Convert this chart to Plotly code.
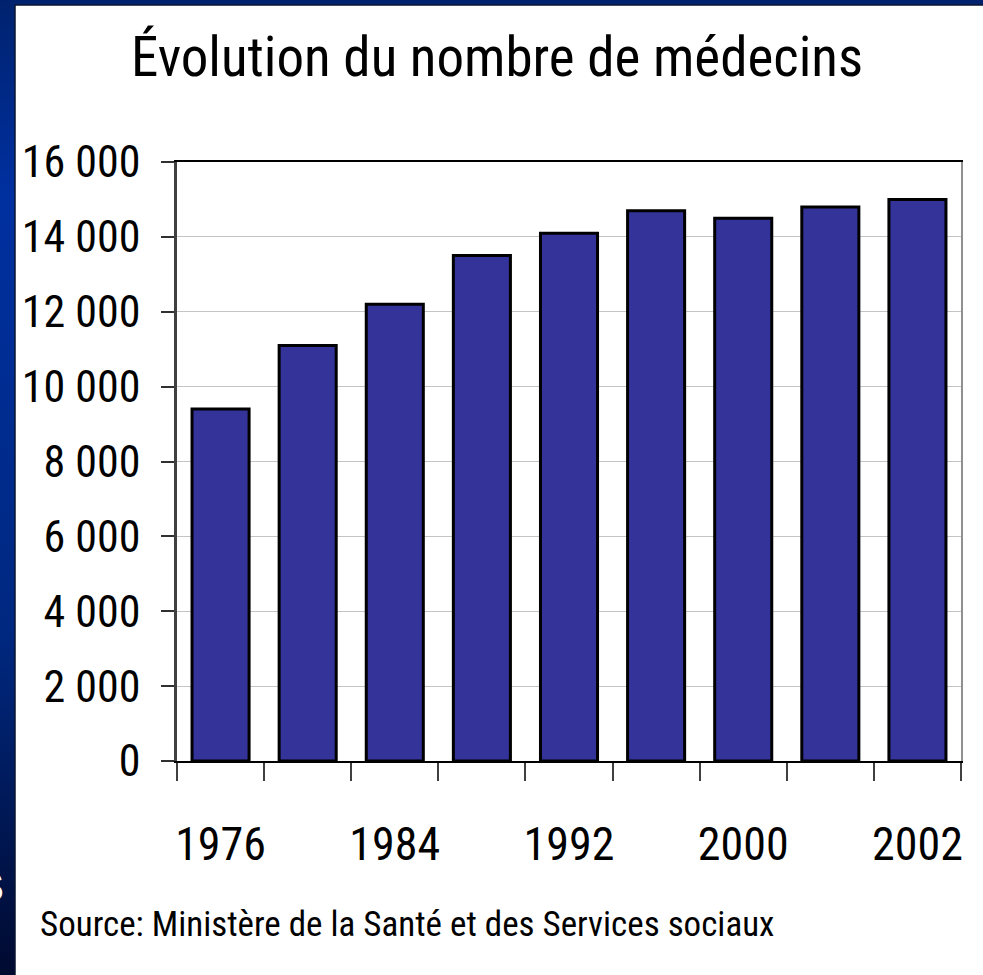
import base64
import plotly.graph_objects as go

# données
annees = ["1976", "1980", "1984", "1988", "1992", "1996", "2000", "2001", "2002"]
etiquettes = ["1976", "", "1984", "", "1992", "", "2000", "", "2002"]
medecins = [9400, 11100, 12200, 13500, 14100, 14700, 14500, 14800, 15000]
graduations = [0, 2000, 4000, 6000, 8000, 10000, 12000, 14000, 16000]

W, H = 983, 975
L, R, T, B = 177, 22, 162, 214
PW, PH = W - L - R, H - T - B
FONT = "Roboto Condensed, Liberation Sans Narrow, Arial Narrow, sans-serif"

# cadre bleu de la diapositive (bande gauche + bande du haut), dégradé vertical
svg = f"""<svg xmlns='http://www.w3.org/2000/svg' width='{W}' height='{H}' viewBox='0 0 {W} {H}' preserveAspectRatio='none'>
<defs><linearGradient id='g' x1='0' y1='0' x2='0' y2='1'>
<stop offset='0' stop-color='#00226e'/>
<stop offset='0.2' stop-color='#0030a0'/>
<stop offset='0.65' stop-color='#002880'/>
<stop offset='1' stop-color='#000a30'/>
</linearGradient></defs>
<path d='M0 0 H{W} V5 H15 V{H} H0 Z' fill='url(#g)'/>
<path d='M15 5 H{W}' stroke='#0a1430' stroke-width='1.5'/>
<path d='M15 5 V{H}' stroke='#0a1430' stroke-width='1.5'/>
</svg>"""
cadre = "data:image/svg+xml;base64," + base64.b64encode(svg.encode()).decode()

fig = go.Figure()
fig.add_trace(go.Bar(
    x=annees, y=medecins,
    marker=dict(color="#333399", line=dict(color="black", width=3)),
    width=0.655,
    hoverinfo="x+y",
))

fig.update_layout(
    width=W, height=H,
    paper_bgcolor="white",
    plot_bgcolor="white",
    separators=", ",
    showlegend=False,
    margin=dict(l=L, r=R, t=T, b=B, autoexpand=False),
    title=dict(
        text="Évolution du nombre de médecins",
        font=dict(family=FONT, size=55, color="black"),
        x=497 / W, xanchor="center",
        y=1 - 57 / H, yanchor="middle",
    ),
    xaxis=dict(
        type="category", automargin=False,
        categoryorder="array", categoryarray=annees,
        tickmode="array", tickvals=annees, ticktext=etiquettes,
        tickson="boundaries", tickangle=0,
        ticks="outside", ticklen=18, tickwidth=1.5, tickcolor="#404040",
        ticklabelstandoff=42,
        tickfont=dict(family=FONT, size=46, color="black"),
        showline=True, linecolor="black", linewidth=1.5, mirror=True,
        showgrid=False,
    ),
    yaxis=dict(
        range=[0, 16000], automargin=False,
        tickmode="array", tickvals=graduations,
        tickformat=",.0f",
        ticks="outside", ticklen=13, tickwidth=2, tickcolor="#303030",
        ticklabelstandoff=12,
        tickfont=dict(family=FONT, size=44, color="black"),
        showline=True, linecolor="#404040", linewidth=2.5,
        showgrid=True, gridcolor="#c4c4c4", gridwidth=1,
        zeroline=False,
    ),
    yaxis2=dict(
        overlaying="y", side="right", range=[0, 16000], automargin=False,
        showline=True, linecolor="#909090", linewidth=2,
        showticklabels=False, ticks="", showgrid=False, zeroline=False,
    ),
    images=[dict(
        source=cadre, xref="paper", yref="paper",
        x=-L / PW, y=1 + T / PH, sizex=W / PW, sizey=H / PH,
        xanchor="left", yanchor="top",
        sizing="stretch", layer="above",
    )],
    annotations=[
        dict(
            text="Source: Ministère de la Santé et des Services sociaux",
            xref="paper", yref="paper",
            x=(38 - L) / PW, y=-(924 - 761) / PH,
            xanchor="left", yanchor="middle", showarrow=False,
            font=dict(family=FONT, size=35, color="black"),
        ),
        dict(
            text="<b>S</b>",
            xref="paper", yref="paper",
            x=(6 - L) / PW, y=-(887 - 761) / PH,
            xanchor="right", yanchor="middle", showarrow=False,
            font=dict(family="Liberation Sans, Arial, sans-serif", size=40, color="white"),
        ),
    ],
)

# trace vide pour activer l'axe de droite
fig.add_trace(go.Scatter(x=[], y=[], yaxis="y2", showlegend=False))

# la page a une marge de 8 px par défaut : on la supprime
fig.write_html(
    "out.html",
    config={"displayModeBar": False},
    post_script="document.body.style.margin='0';",
)
